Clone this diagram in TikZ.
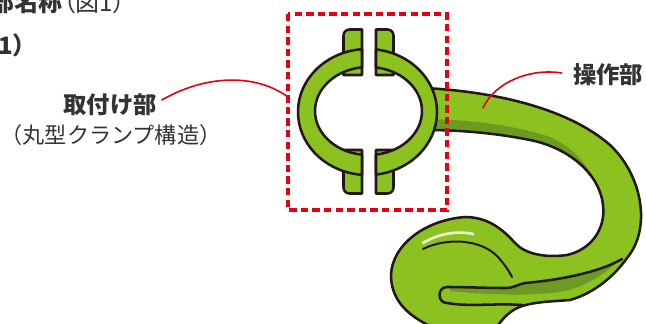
\documentclass[tikz,border=0pt]{standalone}
\usepackage{fontspec}
\setmainfont{Noto Sans CJK JP}
\usetikzlibrary{calc}
\definecolor{leaf}{HTML}{8CC21F}
\definecolor{leafdark}{HTML}{6C9A22}
\definecolor{ink}{HTML}{231815}
\definecolor{alert}{HTML}{E60012}
\definecolor{txt}{HTML}{333333}
\definecolor{shine}{HTML}{EAF3D4}
\begin{document}
\begin{tikzpicture}[x=0.75pt,y=-0.75pt,
  part/.style={fill=leaf,draw=ink,line width=1.9pt,line join=round},
  outline/.style={draw=ink,line width=1.9pt,line cap=round,line join=round},
  leader/.style={draw=alert,line width=1.2pt,line cap=round},
  frame/.style={draw=alert,line width=2.4pt,dash pattern=on 5.6pt off 3.1pt},
  headbold/.style={text=txt,font=\fontsize{18}{20}\selectfont\bfseries,inner sep=0pt},
  headplain/.style={text=txt,font=\fontsize{18}{20}\selectfont\addfontfeatures{RawFeature=+palt},inner sep=0pt},
  label/.style={text=txt,font=\fontsize{17.5}{20}\selectfont\bfseries,inner sep=0pt},
  note/.style={text=txt,font=\fontsize{16.6}{20}\selectfont,inner sep=0pt}]
\useasboundingbox (0,0) rectangle (646,324);
\clip (0,0) rectangle (646,324);

% outline of the grip: arm leaving the clamp, loop and bulb-shaped tail
\def\gripbody{(425,88) .. controls (500,92) and (570,110) .. (610,145)
  .. controls (642,175) and (652,228) .. (627,258)
  .. controls (615,275) and (595,293) .. (570,300)
  .. controls (545,302) and (525,302) .. (512,311)
  .. controls (505,316) and (500,322) .. (496,328)
  .. controls (480,345) and (450,338) .. (430,326)
  .. controls (405,314) and (391,298) .. (391,275)
  .. controls (392,245) and (425,220) .. (465,217)
  .. controls (490,217) and (505,232) .. (515,243)
  .. controls (525,254) and (545,258) .. (567,255)
  .. controls (590,250) and (606,230) .. (603,205)
  .. controls (600,175) and (570,148) .. (530,140)
  .. controls (495,133) and (460,130) .. (425,130) -- cycle}

\fill[leaf] \gripbody;
% darker band along the inner side of the arm
\fill[leafdark] (425,119) .. controls (480,120) and (520,127) .. (550,137)
  .. controls (580,150) and (598,178) .. (603,205)
  .. controls (600,175) and (570,148) .. (530,140)
  .. controls (495,133) and (460,130) .. (425,130) -- cycle;
% darker band under the lip of the tail
\fill[leafdark] (620,259) .. controls (600,272) and (560,280) .. (525,283)
  .. controls (518,284) and (515,288) .. (505,288)
  .. controls (485,288) and (465,287) .. (450,288) -- (450,291)
  .. controls (490,295) and (530,296) .. (560,292)
  .. controls (585,288) and (608,272) .. (620,259) -- cycle;
\draw[outline] \gripbody;
% lip of the tail
\draw[outline] (622,259) .. controls (600,272) and (560,280) .. (525,283)
  .. controls (518,284) and (515,288) .. (505,288)
  .. controls (485,288) and (465,287) .. (447,287)
  .. controls (437,287) and (437,303) .. (447,303)
  .. controls (470,307) and (495,303) .. (522,305);
% fold on the bulb and its highlight
\draw[outline,line width=1.5pt] (423,249) .. controls (445,238) and (480,238) .. (498,257)
  .. controls (505,265) and (509,271) .. (512,277);
\draw[shine,line width=2pt,line cap=round] (423,243) .. controls (436,235) and (455,230) .. (473,234);

% tabs of the clamp
\path[part] (362,75) -- (362,29.5) -- (349.5,29.5) .. controls (346.2,29.5) and (343.5,32.2) .. (343.5,35.5) -- (343.5,75) -- cycle;
\path[part] (376,75) -- (376,29.5) -- (387.5,29.5) .. controls (390.8,29.5) and (393.5,32.2) .. (393.5,35.5) -- (393.5,75) -- cycle;
\path[part] (362,150) -- (362,193.5) -- (349.5,193.5) .. controls (346.2,193.5) and (343.5,190.8) .. (343.5,187.5) -- (343.5,150) -- cycle;
\path[part] (376,150) -- (376,193.5) -- (387.5,193.5) .. controls (390.8,193.5) and (393.5,190.8) .. (393.5,187.5) -- (393.5,150) -- cycle;

% the two halves of the round clamp
\path[part] (362,49.2) arc[start angle=265.46, end angle=94.54, x radius=69.5, y radius=63]
  -- (362,154.67) arc[start angle=96.98, end angle=263.02, x radius=53.5, y radius=44] -- cycle;
\path[part] (376,49.5) arc[start angle=-82.97, end angle=82.97, x radius=69.5, y radius=63]
  -- (376,154.6) arc[start angle=81.94, end angle=-81.94, x radius=53.5, y radius=44] -- cycle;

% marked area
\draw[frame] (288,14) rectangle (447,210);
\coordinate (mountpt) at (288,97);
\coordinate (grippt) at (483,108);

% heading
\node[headbold,anchor=base east] (headA) at (63,11.5) {部名称};
\node[headplain,anchor=base west] (headB) at (63.5,11.5) {（図1）};
\node[headbold,anchor=base west] (headC) at (-2,55) {1）};

% labels and leaders
\node[label] (lblmount) at (110,105) {取付け部};
\node[note] (lblclamp) at (111,135) {（丸型クランプ構造）};
\node[label] (lblgrip) at (608,75) {操作部};
\draw[leader] ($(lblmount.east)+(5,-5)$) .. controls (205,75) and (255,73) .. (mountpt);
\draw[leader] ($(lblgrip.west)+(-11,-2)$) .. controls (530,68) and (495,82) .. (grippt);
\end{tikzpicture}
\end{document}
